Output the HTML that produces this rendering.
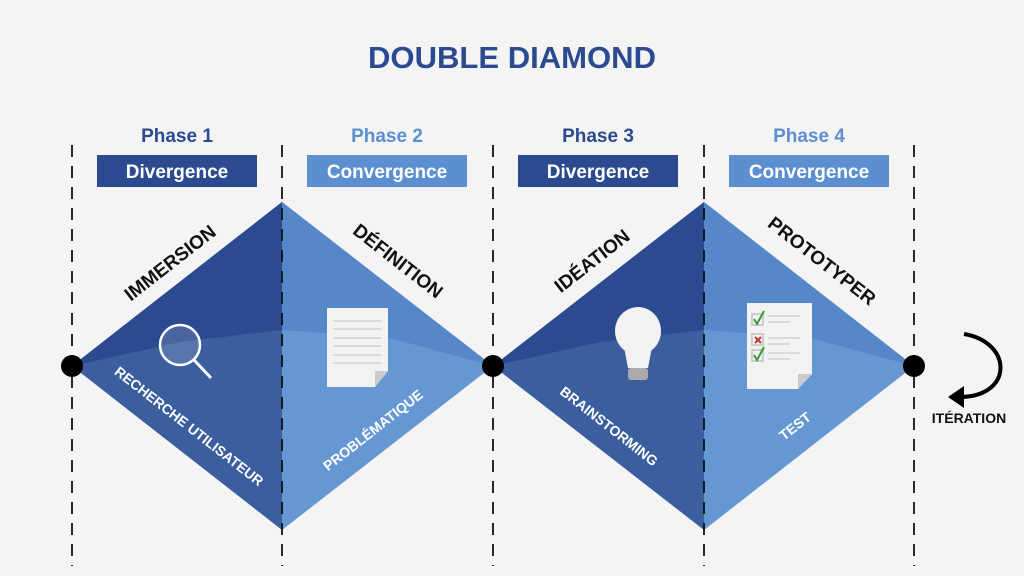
<!DOCTYPE html>
<html><head><meta charset="utf-8"><style>
body{margin:0;background:#f4f4f4;}
svg{display:block;font-family:"Liberation Sans",sans-serif;}
</style></head><body>
<svg width="1024" height="576" viewBox="0 0 1024 576">
<rect width="1024" height="576" fill="#f4f4f4"/>
<text x="512" y="68" text-anchor="middle" font-size="31" font-weight="bold" fill="#2b4a8f" textLength="288" lengthAdjust="spacingAndGlyphs">DOUBLE DIAMOND</text>
<g font-size="19" font-weight="bold" text-anchor="middle">
<text x="177" y="142" fill="#2b4a8f">Phase 1</text>
<text x="387" y="142" fill="#5b8fd0">Phase 2</text>
<text x="598" y="142" fill="#2b4a8f">Phase 3</text>
<text x="809" y="142" fill="#5b8fd0">Phase 4</text>
</g>
<rect x="97" y="155" width="160" height="32" fill="#2b4a8f"/>
<rect x="307" y="155" width="160" height="32" fill="#5b8fd0"/>
<rect x="518" y="155" width="160" height="32" fill="#2b4a8f"/>
<rect x="729" y="155" width="160" height="32" fill="#5b8fd0"/>
<g font-size="19" font-weight="bold" fill="#fff" text-anchor="middle">
<text x="177" y="178">Divergence</text>
<text x="387" y="178">Convergence</text>
<text x="598" y="178">Divergence</text>
<text x="809" y="178">Convergence</text>
</g>
<polygon points="72,366 282,202 282,530" fill="#3a5e9e"/>
<polygon points="72,366 282,202 282,330 180,342" fill="#2b4a8f"/>
<polygon points="282,202 493,366 282,530" fill="#6598d3"/>
<polygon points="282,202 493,366 390,338 282,330" fill="#5687c8"/>
<polygon points="493,366 704,202 704,530" fill="#3a5e9e"/>
<polygon points="493,366 704,202 704,330 600,342" fill="#2b4a8f"/>
<polygon points="704,202 914,366 704,530" fill="#6598d3"/>
<polygon points="704,202 914,366 810,338 704,330" fill="#5687c8"/>
<g stroke="#111" stroke-width="1.8" stroke-dasharray="12,9">
<line x1="72" y1="145" x2="72" y2="566"/>
<line x1="282" y1="145" x2="282" y2="566"/>
<line x1="493" y1="145" x2="493" y2="566"/>
<line x1="704" y1="145" x2="704" y2="566"/>
<line x1="914" y1="145" x2="914" y2="566"/>
</g>
<circle cx="72" cy="366" r="11" fill="#000"/>
<circle cx="493" cy="366" r="11" fill="#000"/>
<circle cx="914" cy="366" r="11" fill="#000"/>
<g font-size="19" font-weight="bold" fill="#111" text-anchor="middle">
<text transform="translate(174,268) rotate(-38)">IMMERSION</text>
<text transform="translate(394,266) rotate(38)">DÉFINITION</text>
<text transform="translate(596,266) rotate(-38)">IDÉATION</text>
<text transform="translate(818,266) rotate(38)">PROTOTYPER</text>
</g>
<g font-size="14" font-weight="bold" fill="#fff" text-anchor="middle">
<text transform="translate(186,430) rotate(38)">RECHERCHE UTILISATEUR</text>
<text transform="translate(376,434) rotate(-38)">PROBLÉMATIQUE</text>
<text transform="translate(606,430) rotate(38)">BRAINSTORMING</text>
<text transform="translate(798,430) rotate(-38)">TEST</text>
</g>
<circle cx="180" cy="345" r="20" fill="rgba(255,255,255,0.15)" stroke="#fff" stroke-width="2.5"/>
<line x1="194" y1="360" x2="211" y2="378" stroke="#fff" stroke-width="3"/>
<polygon points="327,308 388,308 388,371 375,387 327,387" fill="#f2f2f2"/>
<polygon points="375,387 388,371 375,371" fill="#ccc"/>
<g stroke="#ccc" stroke-width="1.2">
<line x1="333" y1="321" x2="381" y2="321"/><line x1="333" y1="329" x2="381" y2="329"/>
<line x1="333" y1="338" x2="381" y2="338"/><line x1="333" y1="346" x2="381" y2="346"/>
<line x1="333" y1="355" x2="381" y2="355"/><line x1="333" y1="363" x2="381" y2="363"/>
</g>
<ellipse cx="638" cy="331" rx="23" ry="24" fill="#f2f2f2"/>
<path d="M624,347 L652,347 L648,368 L628,368 Z" fill="#f2f2f2"/>
<rect x="628" y="368" width="20" height="12" rx="3" fill="#aaa"/>
<polygon points="747,303 812,303 812,374 798,389 747,389" fill="#f2f2f2"/>
<polygon points="798,389 812,374 798,374" fill="#ccc"/>
<g stroke="#ccc" stroke-width="1.2">
<line x1="768" y1="316" x2="800" y2="316"/><line x1="768" y1="322" x2="790" y2="322"/>
<line x1="768" y1="338" x2="800" y2="338"/><line x1="768" y1="344" x2="790" y2="344"/>
<line x1="768" y1="353" x2="800" y2="353"/><line x1="768" y1="359" x2="790" y2="359"/>
</g>
<g fill="none" stroke-width="2">
<rect x="752" y="314" width="11" height="11" stroke="#ccc"/>
<path d="M754,319 L757,324 L764,311" stroke="#3a9a3a"/>
<rect x="752" y="334" width="11" height="11" stroke="#ccc"/>
<path d="M755,337 L761,343 M761,337 L755,343" stroke="#c0392b"/>
<rect x="752" y="350" width="11" height="11" stroke="#ccc"/>
<path d="M754,355 L757,360 L764,347" stroke="#3a9a3a"/>
</g>
<path d="M964,334 C1012,342 1014,395 962,397" fill="none" stroke="#000" stroke-width="4"/>
<polygon points="948,397 964,386 964,408" fill="#000"/>
<text x="969" y="423" text-anchor="middle" font-size="14" font-weight="bold" fill="#111">ITÉRATION</text>
</svg>
</body></html>
